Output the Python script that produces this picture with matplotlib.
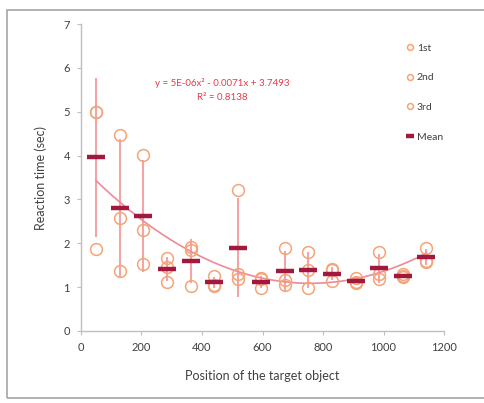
"""
Reaction time vs. position of the target object.
Three trials per position, their mean, sd error bars and a 2nd order trendline.
"""

import matplotlib
matplotlib.use("Agg")
import matplotlib.pyplot as plt
import numpy as np
from matplotlib.patches import Rectangle


# ============================================================
# Data
# ============================================================

positions = [50, 128, 206, 284, 362, 440, 518, 596, 674, 752, 830, 908, 986, 1064, 1142]

trial_1st = [5.00, 4.48, 4.02, 1.66, 1.92, 1.25, 3.21, 1.20, 1.90, 1.81, 1.42, 1.20, 1.81, 1.30, 1.90]
trial_2nd = [5.00, 2.57, 2.30, 1.45, 1.84, 1.05, 1.30, 1.18, 1.16, 1.38, 1.38, 1.12, 1.30, 1.25, 1.60]
trial_3rd = [1.87, 1.37, 1.53, 1.12, 1.02, 1.03, 1.19, 0.97, 1.05, 0.98, 1.13, 1.10, 1.18, 1.22, 1.57]

equation_text = "y = 5E-06x² - 0.0071x + 3.7493"
r2_text = "R² = 0.8138"

x_ticks = [0, 200, 400, 600, 800, 1000, 1200]
y_ticks = [0, 1, 2, 3, 4, 5, 6, 7]


# ============================================================
# Derived values
# ============================================================

trials = np.array([trial_1st, trial_2nd, trial_3rd])
means = trials.mean(axis=0)
sds = trials.std(axis=0, ddof=1)

coeffs = np.polyfit(positions, means, 2)
x_fit = np.linspace(min(positions), max(positions), 200)
y_fit = np.polyval(coeffs, x_fit)


# ============================================================
# Styling
# ============================================================

plt.rcParams["font.family"] = ["Lato", "DejaVu Sans"]

CIRCLE_COLOR = "#F4A477"
ERR_COLOR = "#F4A3A6"
MEAN_COLOR = "#A3183E"
TREND_COLOR = "#EE8A96"
AXIS_COLOR = "#BFBFBF"
TEXT_COLOR = "#404040"


# ============================================================
# Figure
# ============================================================

fig = plt.figure(figsize=(4.85, 4.03), dpi=100)
ax = fig.add_axes([0.167, 0.1787, 0.7485, 0.7617])

# outer chart frame (right edge runs off the picture)
fig.patches.append(
    Rectangle(
        (7 / 485, 1 - 398 / 403),
        1.2,
        (398 - 10) / 403,
        transform=fig.transFigure,
        fill=False,
        edgecolor="#A6A6A6",
        linewidth=1.2,
        figure=fig,
    )
)

ax.errorbar(
    positions,
    means,
    yerr=sds,
    fmt="none",
    ecolor=ERR_COLOR,
    elinewidth=1.5,
    capsize=0,
    zorder=1,
)

ax.plot(x_fit, y_fit, color=TREND_COLOR, linewidth=1.2, zorder=2)

for values, name in zip([trial_1st, trial_2nd, trial_3rd], ["1st", "2nd", "3rd"]):
    ax.plot(
        positions,
        values,
        linestyle="none",
        marker="o",
        markersize=8.5,
        markerfacecolor="none",
        markeredgecolor=CIRCLE_COLOR,
        markeredgewidth=1.1,
        label=name,
        zorder=3,
    )

ax.plot(
    positions,
    means,
    linestyle="none",
    marker="_",
    markersize=12.5,
    markeredgewidth=3.2,
    color=MEAN_COLOR,
    label="Mean",
    zorder=4,
)

ax.text(
    0.388,
    0.808,
    equation_text,
    transform=ax.transAxes,
    ha="center",
    va="center",
    color="#E8394A",
    fontsize=7,
)
ax.text(
    0.388,
    0.759,
    r2_text,
    transform=ax.transAxes,
    ha="center",
    va="center",
    color="#E8394A",
    fontsize=7,
)

ax.set_xlim(0, 1200)
ax.set_ylim(0, 7)
ax.set_xticks(x_ticks)
ax.set_yticks(y_ticks)

for side in ["top", "right"]:
    ax.spines[side].set_visible(False)
for side in ["left", "bottom"]:
    ax.spines[side].set_color(AXIS_COLOR)
    ax.spines[side].set_linewidth(1.0)

ax.tick_params(
    axis="both",
    colors=AXIS_COLOR,
    labelcolor=TEXT_COLOR,
    labelsize=8,
    length=3,
    width=0.8,
    pad=5,
)

ax.set_xlabel("Position of the target object", fontsize=9, color=TEXT_COLOR, labelpad=12)
ax.set_ylabel("Reaction time (sec)", fontsize=9, color=TEXT_COLOR, labelpad=12)

legend = ax.legend(
    loc="upper left",
    bbox_to_anchor=(0.885, 0.95),
    frameon=False,
    fontsize=7.5,
    labelspacing=1.95,
    handlelength=0.7,
    handletextpad=0.3,
    markerscale=0.5,
    borderaxespad=0,
)
for text in legend.get_texts():
    text.set_color(TEXT_COLOR)

fig.savefig("out.png", dpi=100)
plt.close(fig)
